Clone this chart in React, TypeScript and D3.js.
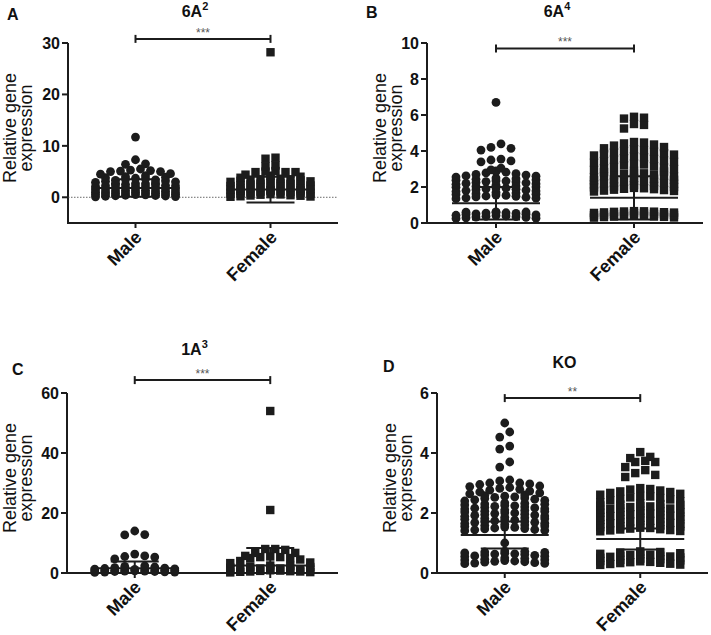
import React from 'react';
import * as d3 from 'd3';

const categories = ['Male', 'Female'];
const panelLetters = ['A', 'B', 'C', 'D'];
const panelTitles = ['6A', '6A', '1A', 'KO'];
const titleSups = ['2', '4', '3', ''];
const sigLabels = ['***', '***', '***', '**'];
const yLabelLines = ['Relative gene', 'expression'];

const yMins = [-5, 0, 0, 0];
const yMaxs = [30, 10, 60, 6];
const ticksA = [0, 10, 20, 30];
const ticksB = [0, 2, 4, 6, 8, 10];
const ticksC = [0, 20, 40, 60];
const ticksD = [0, 2, 4, 6];
const sigBarValues = [30.8, 9.7, 64.3, 5.83];

// Panel A: 6A2
const a_male = [0.1, 0.15, 0.2, 0.25, 0.3, 0.35, 0.4, 0.45, 0.5, 0.55, 0.6, 0.65, 0.7, 0.75, 0.8, 0.85, 0.9, 0.95, 1.0, 1.05, 1.1, 1.15, 1.2, 1.25, 1.3, 1.35, 1.4,
  1.5, 1.6, 1.65, 1.7, 1.8, 1.85, 1.9, 2.0, 2.05, 2.1, 2.2, 2.25, 2.3, 2.4, 2.45, 2.5, 2.6, 2.65, 2.7, 2.8,
  2.9, 3.0, 3.1, 3.2, 3.3, 3.4, 3.5, 3.6, 3.7, 3.8, 3.9, 4.0, 4.2,
  4.5, 4.6, 5.0, 5.0, 5.1, 5.2, 5.3, 5.5,
  6.4, 6.5, 7.3, 11.7];
const a_female = [0.1, 0.15, 0.2, 0.3, 0.35, 0.4, 0.5, 0.55, 0.6, 0.7, 0.75, 0.8, 0.9, 0.95, 1.0, 1.1, 1.15, 1.2, 1.3, 1.35, 1.4,
  1.5, 1.6, 1.7, 1.75, 1.8, 1.9, 2.0, 2.05, 2.1, 2.2, 2.3, 2.35, 2.4, 2.5, 2.6, 2.65, 2.7, 2.8,
  3.0, 3.1, 3.2, 3.3, 3.4, 3.5, 3.5, 3.6, 3.7, 3.8, 4.0, 4.2,
  4.4, 4.9, 4.9, 4.9, 5.0, 5.1,
  6.0, 6.2, 7.5, 7.7, 28.2];
const a_means = [1.8, 1.5];
const a_sds = [1.7, 2.5];

// Panel B: 6A4
const b_male = [0.25, 0.27, 0.29, 0.31, 0.33, 0.35, 0.37, 0.39, 0.41, 0.43, 0.45, 0.47, 0.49, 0.51, 0.53, 0.55, 0.57, 0.59, 0.6, 0.61, 0.62,
  1.35, 1.38, 1.4, 1.43, 1.45, 1.48, 1.5, 1.53, 1.55, 1.58, 1.6, 1.63, 1.66, 1.7,
  1.75, 1.78, 1.8, 1.83, 1.85, 1.88, 1.9, 1.93, 1.95, 1.98, 2.0, 2.03, 2.06, 2.1,
  2.15, 2.18, 2.2, 2.23, 2.25, 2.28, 2.3, 2.33, 2.35, 2.38, 2.4, 2.43, 2.46, 2.5,
  2.55, 2.6, 2.62, 2.66, 2.7, 2.74, 2.78, 2.82, 2.86, 2.9,
  2.95, 3.05, 3.4, 3.45, 3.5, 3.55, 4.05, 4.15, 4.2, 4.4, 6.7];
const b_female = [0.3, 0.31, 0.33, 0.34, 0.36, 0.37, 0.39, 0.4, 0.42, 0.43, 0.45, 0.46, 0.48, 0.49, 0.5, 0.52, 0.53, 0.55, 0.56, 0.58, 0.59, 0.6, 0.62, 0.63, 0.64, 0.65, 0.66,
  1.75, 1.78, 1.8, 1.83, 1.85, 1.88, 1.9, 1.93, 1.95, 1.98, 2.0, 2.03, 2.06, 2.1,
  2.15, 2.18, 2.2, 2.23, 2.25, 2.28, 2.3, 2.33, 2.35, 2.38, 2.4, 2.43, 2.46, 2.5,
  2.55, 2.58, 2.6, 2.63, 2.66, 2.7, 2.73, 2.76, 2.8, 2.83, 2.86, 2.9,
  2.95, 3.0, 3.04, 3.08, 3.12, 3.16, 3.2, 3.25, 3.3,
  3.35, 3.4, 3.44, 3.48, 3.52, 3.56, 3.6, 3.65, 3.7,
  3.75, 3.8, 3.84, 3.88, 3.92, 3.96, 4.0, 4.05, 4.1,
  4.15, 4.22, 4.3, 4.36, 4.42, 4.47, 4.5,
  5.25, 5.45, 5.5, 5.8, 5.85, 5.9];
const b_means = [1.1, 1.4];
const b_sds = [0.9, 1.2];

// Panel C: 1A3
const c_male = [0.2, 0.3, 0.3, 0.4, 0.5, 0.5, 0.6, 0.6, 0.7, 0.7, 0.8, 0.8, 0.9, 0.9, 1.0, 1.0, 1.1, 1.2, 1.3, 1.4, 1.5, 1.6, 1.8, 2.0, 2.2, 2.4,
  4.7, 5.3, 5.5, 5.7, 6.3, 12.7, 12.8, 14.0];
const c_female = [0.2, 0.3, 0.4, 0.5, 0.5, 0.6, 0.7, 0.8, 0.9, 1.0, 1.0, 1.1, 1.2, 1.3, 1.4, 1.5, 1.5, 1.6, 1.8, 2.0, 2.2, 2.4, 2.5,
  3.3, 3.5, 4.0, 4.5, 5.0, 5.0, 5.3, 5.3, 5.5,
  5.7, 6.7, 6.7, 7.7, 8.0, 8.0, 21.0, 54.0];
const c_means = [1.6, 2.5];
const c_sds = [2.2, 5.8];

// Panel D: KO
const d_male = [0.31, 0.32, 0.33, 0.345, 0.36, 0.375, 0.39, 0.4, 0.415, 0.43, 0.445, 0.46, 0.48, 0.5,
  0.55, 0.56, 0.57, 0.585, 0.6, 0.615, 0.63, 0.64, 0.655, 0.67, 0.685, 0.7, 0.715, 0.73,
  1.0,
  1.41, 1.42, 1.44, 1.45, 1.47, 1.48, 1.5, 1.52, 1.53, 1.55, 1.57, 1.58, 1.6, 1.62,
  1.65, 1.66, 1.68, 1.69, 1.71, 1.72, 1.74, 1.76, 1.77, 1.79, 1.81, 1.82, 1.84, 1.86,
  1.89, 1.9, 1.92, 1.93, 1.95, 1.96, 1.98, 2.0, 2.01, 2.03, 2.05, 2.06, 2.08, 2.1,
  2.13, 2.14, 2.16, 2.17, 2.19, 2.2, 2.22, 2.24, 2.25, 2.27, 2.29, 2.3, 2.32, 2.34,
  2.4, 2.42, 2.44, 2.46, 2.48, 2.5, 2.52, 2.54, 2.56, 2.58, 2.6,
  2.64, 2.67, 2.7, 2.73, 2.76, 2.79, 2.82, 2.85,
  2.88, 2.9, 2.95, 2.97, 3.0, 3.0, 3.07, 3.1,
  3.53, 3.7, 4.13, 4.23, 4.53, 4.7, 5.0];
const d_female = [0.27, 0.28, 0.3, 0.31, 0.33, 0.34, 0.36, 0.37, 0.39, 0.4, 0.42, 0.44, 0.46, 0.48,
  0.51, 0.52, 0.54, 0.55, 0.57, 0.58, 0.6, 0.61, 0.63, 0.64, 0.66, 0.68, 0.7, 0.72,
  1.39, 1.4, 1.42, 1.43, 1.45, 1.46, 1.48, 1.5, 1.51, 1.53, 1.55, 1.56, 1.58, 1.6,
  1.63, 1.64, 1.66, 1.67, 1.69, 1.7, 1.72, 1.74, 1.75, 1.77, 1.79, 1.8, 1.82, 1.84,
  1.87, 1.88, 1.9, 1.91, 1.93, 1.94, 1.96, 1.98, 1.99, 2.01, 2.03, 2.04, 2.06, 2.08,
  2.11, 2.12, 2.14, 2.15, 2.17, 2.18, 2.2, 2.22, 2.23, 2.25, 2.27, 2.28, 2.3, 2.32,
  2.36, 2.39, 2.42, 2.45, 2.47, 2.5, 2.52, 2.55, 2.57,
  2.61, 2.64, 2.67, 2.7, 2.72, 2.75, 2.78, 2.8, 2.83,
  3.2, 3.27, 3.33, 3.43, 3.53, 3.7, 3.7, 3.74, 3.83, 3.87, 4.03];
const d_means = [1.27, 1.13];
const d_sds = [0.45, 0.35];

const maleSets = [a_male, b_male, c_male, d_male];
const femaleSets = [a_female, b_female, c_female, d_female];
const meanSets = [a_means, b_means, c_means, d_means];
const sdSets = [a_sds, b_sds, c_sds, d_sds];
const tickSets = [ticksA, ticksB, ticksC, ticksD];

// layout (pixel geometry only)
const frames = [
  { x0: 68, x1: 338, yTop: 43, yBot: 223, letterX: 7, letterY: 20, titleY: 17, lab1: 16, lab2: 32 },
  { x0: 427, x1: 703, yTop: 43, yBot: 223, letterX: 366, letterY: 18, titleY: 17, lab1: 386, lab2: 402 },
  { x0: 67, x1: 338, yTop: 393, yBot: 573, letterX: 12, letterY: 375, titleY: 355, lab1: 16, lab2: 32 },
  { x0: 437, x1: 708, yTop: 393, yBot: 573, letterX: 383, letterY: 372, titleY: 368, lab1: 396, lab2: 412 },
];

const INK = '#1c1c1c';
const FONT = 'Arial, "Liberation Sans", Helvetica, sans-serif';
const COLS = 9;
const STEP = 10;

function swarm(values: number[], y: (v: number) => number, cx: number) {
  const rowH = 7;
  const sorted = [...values].sort((a, b) => a - b);
  const rows: number[][] = [];
  let cur: number[] = [];
  let start = 0;
  for (const v of sorted) {
    const py = y(v);
    if (cur.length && start - py < rowH) cur.push(v);
    else {
      if (cur.length) rows.push(cur);
      cur = [v];
      start = py;
    }
  }
  if (cur.length) rows.push(cur);
  const pts: { x: number; y: number }[] = [];
  const place = (part: number[], colsOf: (s: number) => number) => {
    const r = part.length;
    let lo = 0, hi = r - 1;
    part.forEach((v, i) => {
      const s = i % 2 === 0 ? lo++ : hi--;
      pts.push({ x: cx + colsOf(s) * STEP, y: y(v) });
    });
  };
  rows.forEach((row) => {
    const n = row.length;
    if (n <= COLS) {
      place(row, (s) => s - (n - 1) / 2);
    } else {
      for (let c = 0; c * COLS < n; c++) {
        const part = row.slice(c * COLS, c * COLS + COLS);
        const r = part.length;
        place(part, (s) => (r === COLS ? s : Math.round(((s + 0.5) * COLS) / r - 0.5)) - (COLS - 1) / 2);
      }
    }
  });
  return pts;
}

function Panel({ idx }: { idx: number }) {
  const f = frames[idx];
  const y = d3.scaleLinear().domain([yMins[idx], yMaxs[idx]]).range([f.yBot, f.yTop]);
  const x = d3.scalePoint<string>().domain(categories).range([f.x0, f.x1]).padding(0.5);
  const xm = x('Male')!;
  const xf = x('Female')!;
  const malePts = swarm(maleSets[idx], y, xm);
  const femalePts = swarm(femaleSets[idx], y, xf);
  const mid = (xm + xf) / 2;
  const sigY = y(sigBarValues[idx]);
  const yMid = (f.yTop + f.yBot) / 2 - 5;
  const sq = 8.4;
  const lo = yMins[idx];
  return (
    <g>
      <text x={f.letterX} y={f.letterY} fontFamily={FONT} fontWeight="bold" fontSize={16} fill="#111">{panelLetters[idx]}</text>
      <text x={mid - 8} y={f.titleY} textAnchor="middle" fontFamily={FONT} fontWeight="bold" fontSize={16} fill="#111">
        {panelTitles[idx]}
        {titleSups[idx] && <tspan fontSize={11} dy={-7}>{titleSups[idx]}</tspan>}
      </text>
      {yLabelLines.map((t, i) => (
        <text key={t} transform={`translate(${i === 0 ? f.lab1 : f.lab2},${yMid}) rotate(-90)`} textAnchor="middle"
          fontFamily={FONT} fontSize={18} fill="#111">{t}</text>
      ))}
      <line x1={f.x0} x2={f.x0} y1={f.yTop} y2={f.yBot} stroke={INK} strokeWidth={2} />
      <line x1={f.x0 - 1} x2={f.x1} y1={f.yBot} y2={f.yBot} stroke={INK} strokeWidth={2} />
      {tickSets[idx].map((t) => (
        <g key={t}>
          <line x1={f.x0 - 6} x2={f.x0} y1={y(t)} y2={y(t)} stroke={INK} strokeWidth={2} />
          <text x={f.x0 - 8} y={y(t)} dy="0.36em" textAnchor="end" fontFamily={FONT} fontWeight="bold" fontSize={16} fill="#111">{t}</text>
        </g>
      ))}
      {categories.map((c) => (
        <g key={c}>
          <line x1={x(c)} x2={x(c)} y1={f.yBot} y2={f.yBot + 5} stroke={INK} strokeWidth={2} />
          <text transform={`translate(${x(c)! + 3},${f.yBot + 11}) rotate(-45)`} dy="0.35em" textAnchor="end"
            fontFamily={FONT} fontWeight="bold" fontSize={18} fill="#111">{c}</text>
        </g>
      ))}
      {lo < 0 && (
        <line x1={f.x0} x2={f.x1} y1={y(0)} y2={y(0)} stroke="#444" strokeWidth={0.8} strokeDasharray="1.5,1.5" />
      )}
      {malePts.map((p, i) => <circle key={'m' + i} cx={p.x} cy={p.y} r={4.4} fill={INK} />)}
      {femalePts.map((p, i) => <rect key={'f' + i} x={p.x - sq / 2} y={p.y - sq / 2} width={sq} height={sq} fill={INK} />)}
      {[xm, xf].map((cx, gi) => {
        const m = meanSets[idx][gi];
        const s = sdSets[idx][gi];
        const low = m - s;
        const lowY = y(Math.max(low, lo));
        return (
          <g key={gi} stroke={INK} strokeWidth={2}>
            <line x1={cx - 44} x2={cx + 44} y1={y(m)} y2={y(m)} />
            <line x1={cx} x2={cx} y1={lowY} y2={y(m + s)} />
            {low >= lo && <line x1={cx - 24} x2={cx + 24} y1={y(low)} y2={y(low)} />}
            <line x1={cx - 24} x2={cx + 24} y1={y(m + s)} y2={y(m + s)} />
          </g>
        );
      })}
      <g stroke={INK} strokeWidth={2}>
        <line x1={xm} x2={xf} y1={sigY} y2={sigY} />
        <line x1={xm} x2={xm} y1={sigY - 4} y2={sigY + 4} />
        <line x1={xf} x2={xf} y1={sigY - 4} y2={sigY + 4} />
      </g>
      <text x={mid} y={sigY - 2} textAnchor="middle" fontFamily={FONT} fontSize={12} fill="#555">{sigLabels[idx]}</text>
    </g>
  );
}

export default function App() {
  return (
    <svg width={711} height={635} style={{ position: 'absolute', left: 0, top: 0, background: '#fff' }}>
      <rect width={711} height={635} fill="#fff" />
      {[0, 1, 2, 3].map((i) => <Panel key={i} idx={i} />)}
    </svg>
  );
}
